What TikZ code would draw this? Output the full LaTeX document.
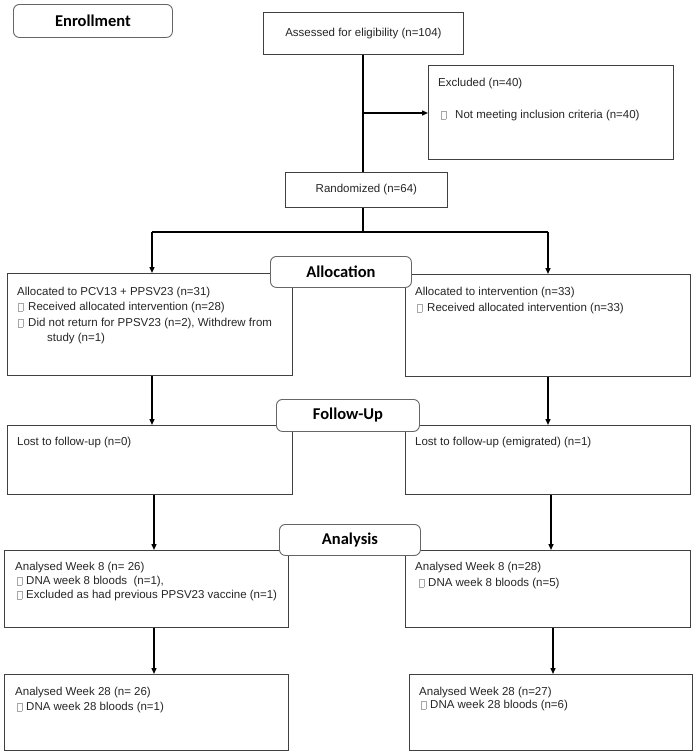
\documentclass[tikz,border=0pt]{standalone}
\usepackage{fontspec}
\setmainfont{Liberation Sans}
\newfontfamily\headfont{Carlito}
\usetikzlibrary{arrows.meta}
\newcommand\bx{{\color{gray!70}\fboxsep=0pt\fboxrule=0.5pt\fbox{\rule{0pt}{7pt}\hspace{4pt}}}}
\tikzset{
  box/.style={draw=black!75, line width=0.8pt, fill=white, anchor=north west, inner sep=0pt},
  headbox/.style={draw=black!60, line width=0.9pt, fill=white, rounded corners=6pt, anchor=north west, inner sep=0pt},
  headtext/.style={inner sep=0pt, font=\headfont\bfseries\fontsize{16.5}{18}\selectfont},
  t/.style={anchor=base west, inner sep=0pt, font=\fontsize{11.5}{13}\selectfont, text=black!85},
  tc/.style={inner sep=0pt, font=\fontsize{11.5}{13}\selectfont, text=black!85},
  conn/.style={line width=1.4pt, black},
  arr/.style={conn, -{Triangle[length=6pt,width=5pt]}},
}
\begin{document}
\begin{tikzpicture}[x=1pt,y=-1pt]
\useasboundingbox (0,0) rectangle (697,755);
% boxes
\node[box, minimum width=200pt, minimum height=42pt] (assess) at (263,12) {};
\node[tc] (assesst) at (assess.center) {Assessed for eligibility (n=104)};
\node[box, minimum width=245pt, minimum height=94pt] (excl) at (428,65) {};
\node[t] (exclt1) at (438,86.5) {Excluded (n=40)};
\node[t] (exclt2) at (441,118.5) {\bx\hspace{9pt}Not meeting inclusion criteria (n=40)};
\node[box, minimum width=162pt, minimum height=35pt] (rand) at (285,172) {};
\node[tc] (randt) at (rand.center) {Randomized (n=64)};

\node[box, minimum width=285pt, minimum height=102pt] (a1) at (7,273) {};
\node[t] (a1t1) at (17,295.5) {Allocated to PCV13 + PPSV23 (n=31)};
\node[t] (a1t2) at (18,310.5) {\bx\hspace{5pt}Received allocated intervention (n=28)};
\node[t] (a1t3) at (18,326.5) {\bx\hspace{5pt}Did not return for PPSV23 (n=2), Withdrew from};
\node[t] (a1t4) at (47,341.5) {study (n=1)};
\node[box, minimum width=285pt, minimum height=102pt] (a2) at (405,274) {};
\node[t] (a2t1) at (415,295.5) {Allocated to intervention (n=33)};
\node[t] (a2t2) at (417,311.5) {\bx\hspace{5pt}Received allocated intervention (n=33)};

\node[box, minimum width=285pt, minimum height=69pt] (f1) at (7,425) {};
\node[t] (f1t1) at (17,445.5) {Lost to follow-up (n=0)};
\node[box, minimum width=285pt, minimum height=69pt] (f2) at (405,425) {};
\node[t] (f2t1) at (415,445.5) {Lost to follow-up (emigrated) (n=1)};

\node[box, minimum width=284pt, minimum height=77pt] (n1) at (4,550) {};
\node[t] (n1t1) at (15,570.5) {Analysed Week 8 (n= 26)};
\node[t] (n1t2) at (17,584.5) {\bx\hspace{4pt}DNA week 8 bloods \ (n=1),};
\node[t] (n1t3) at (17,598.5) {\bx\hspace{4pt}Excluded as had previous PPSV23 vaccine (n=1)};
\node[box, minimum width=285pt, minimum height=77pt] (n2) at (405,550) {};
\node[t] (n2t1) at (415,570.5) {Analysed Week 8 (n=28)};
\node[t] (n2t2) at (419,586.5) {\bx\hspace{4pt}DNA week 8 bloods (n=5)};

\node[box, minimum width=284pt, minimum height=76pt] (w1) at (4,674) {};
\node[t] (w1t1) at (15,695.5) {Analysed Week 28 (n= 26)};
\node[t] (w1t2) at (17,710.5) {\bx\hspace{4pt}DNA week 28 bloods (n=1)};
\node[box, minimum width=283pt, minimum height=76pt] (w2) at (409,674) {};
\node[t] (w2t1) at (419,695.5) {Analysed Week 28 (n=27)};
\node[t] (w2t2) at (421,708.5) {\bx\hspace{4pt}DNA week 28 bloods (n=6)};

% headings
\node[headbox, minimum width=159pt, minimum height=33pt] (enr) at (13,4) {};
\node[headtext] (enrt) at (enr.center) {Enrollment};
\node[headbox, minimum width=141pt, minimum height=31pt] (alloc) at (270,256) {};
\node[headtext] (alloct) at (alloc.center) {Allocation};
\node[headbox, minimum width=143pt, minimum height=32pt] (follow) at (276,399) {};
\node[headtext] (followt) at (follow.center) {Follow-Up};
\node[headbox, minimum width=141pt, minimum height=31pt] (anal) at (279,524) {};
\node[headtext] (analt) at (anal.center) {Analysis};

% connectors
\coordinate (split) at (363,113);
\coordinate (junc) at (363,232);
\coordinate (jl) at (152,232);
\coordinate (jr) at (548,232);
\draw[conn] (assess.south -| split) -- (rand.north -| split);
\draw[arr] (split) -- (excl.west |- split);
\draw[conn] (rand.south -| junc) -- (junc);
\draw[conn] (jl) -- (jr);
\draw[arr] (jl) -- (jl |- a1.north);
\draw[arr] (jr) -- (jr |- a2.north);
\draw[arr] (a1.south -| jl) -- (f1.north -| jl);
\draw[arr] (a2.south -| jr) -- (f2.north -| jr);
\coordinate (cl) at (154,0);
\coordinate (cr) at (551,0);
\draw[arr] (f1.south -| cl) -- (n1.north -| cl);
\draw[arr] (f2.south -| cr) -- (n2.north -| cr);
\coordinate (dl) at (154,0);
\coordinate (dr) at (553,0);
\draw[arr] (n1.south -| dl) -- (w1.north -| dl);
\draw[arr] (n2.south -| dr) -- (w2.north -| dr);
\end{tikzpicture}
\end{document}
